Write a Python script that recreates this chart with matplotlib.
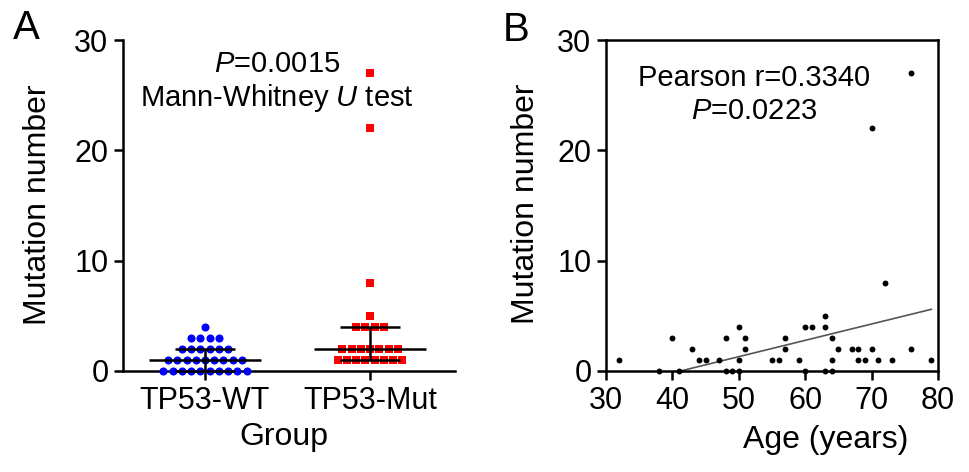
import numpy as np
import matplotlib
matplotlib.use("Agg")
import matplotlib.pyplot as plt

plt.rcParams['font.family'] = ['Liberation Sans', 'DejaVu Sans']
plt.rcParams['mathtext.fontset'] = 'custom'
plt.rcParams['mathtext.rm'] = 'Liberation Sans'
plt.rcParams['mathtext.it'] = 'Liberation Sans:italic'

# ---------------- data ----------------
groups = ["TP53-WT", "TP53-Mut"]
wt_values = [0, 0, 0, 0, 0, 0, 0, 0, 0, 0,
             1, 1, 1, 1, 1, 1, 1, 1, 1,
             2, 2, 2, 2, 2, 2,
             3, 3, 3, 3,
             4]
mut_values = [1, 1, 1, 1, 1, 1, 1, 1,
              2, 2, 2, 2, 2, 2, 2,
              4, 4, 4, 4,
              5, 8, 22, 27]

age = [38, 41, 48, 49, 50, 60, 63, 64,
       32, 44, 45, 47, 50, 55, 56, 59, 64, 68, 69, 71, 73, 79,
       43, 51, 57, 65, 67, 68, 70, 76,
       40, 48, 51, 57, 64,
       50, 60, 61, 63,
       63,
       72, 70, 76]
mutations = [0, 0, 0, 0, 0, 0, 0, 0,
             1, 1, 1, 1, 1, 1, 1, 1, 1, 1, 1, 1, 1, 1,
             2, 2, 2, 2, 2, 2, 2, 2,
             3, 3, 3, 3, 3,
             4, 4, 4, 4,
             5,
             8, 22, 27]
fit_slope = 0.148
fit_intercept = -6.1

yticks = [0, 10, 20, 30]
age_ticks = [30, 40, 50, 60, 70, 80]

# ---------------- figure ----------------
W, H = 969, 472
fig = plt.figure(figsize=(W / 100, H / 100), dpi=100)

def fx(px):
    return px / W

def fy(py):
    return 1 - py / H

axA = fig.add_axes([fx(123), fy(371), fx(332), 331 / H])
axB = fig.add_axes([fx(606), fy(371), fx(332), 331 / H])

LW = 1.8
TICK_FS = 22
LABEL_FS = 23
ANN_FS = 21

for ax in (axA, axB):
    ax.set_ylim(0, 30)
    ax.set_yticks(yticks)
    ax.tick_params(axis='both', direction='out', length=6.5, width=LW,
                   labelsize=TICK_FS, pad=4)
    for s in ax.spines.values():
        s.set_linewidth(LW)

# ---------------- panel A ----------------
spacing = 0.056

def swarm_x(values, center):
    vals = np.asarray(values)
    xs = np.zeros(len(vals), dtype=float)
    for v in np.unique(vals):
        idx = np.where(vals == v)[0]
        k = len(idx)
        xs[idx] = center + (np.arange(k) - (k - 1) / 2) * spacing
    return xs

axA.scatter(swarm_x(wt_values, 0), wt_values, s=34, marker='o',
            color='#0000FF', linewidths=0, zorder=3, clip_on=False)
axA.scatter(swarm_x(mut_values, 1), mut_values, s=34, marker='s',
            color='#FF0000', linewidths=0, zorder=3, clip_on=False)

for c, vals in enumerate([wt_values, mut_values]):
    q1, med, q3 = np.percentile(vals, [25, 50, 75])
    axA.hlines(med, c - 0.34, c + 0.34, color='black', lw=LW, zorder=4, clip_on=False)
    axA.hlines([q1, q3], c - 0.18, c + 0.18, color='black', lw=LW, zorder=4, clip_on=False)
    axA.vlines(c, q1, q3, color='black', lw=LW, zorder=4, clip_on=False)

axA.set_xlim(-0.497, 1.515)
axA.set_xticks([0, 1])
axA.set_xticklabels(groups)
axA.spines['top'].set_visible(False)
axA.spines['right'].set_visible(False)

axA.text(0.436, 27.1, r"$P$=0.0015", ha='center', va='baseline', fontsize=ANN_FS)
axA.text(0.436, 24.0, r"Mann-Whitney $U$ test", ha='center', va='baseline', fontsize=ANN_FS)

# ---------------- panel B ----------------
axB.scatter(age, mutations, s=18, color='black', linewidths=0, zorder=3, clip_on=False)
x0 = max(min(age), -fit_intercept / fit_slope)
x1 = max(age)
xs = np.array([x0, x1])
axB.plot(xs, fit_slope * xs + fit_intercept, color='#555555', lw=1.2, zorder=2)
axB.set_xlim(30, 80)
axB.set_xticks(age_ticks)
axB.tick_params(top=False, right=False)

axB.text(52.3, 25.8, "Pearson r=0.3340", ha='center', va='baseline', fontsize=ANN_FS)
axB.text(52.3, 22.8, r"$P$=0.0223", ha='center', va='baseline', fontsize=ANN_FS)

# ---------------- labels ----------------
fig.text(fx(38), fy(205), "Mutation number", rotation=90, ha='center', va='center', fontsize=LABEL_FS)
fig.text(fx(526), fy(204), "Mutation number", rotation=90, ha='center', va='center', fontsize=LABEL_FS)
fig.text(fx(284), fy(437), "Group", ha='center', va='center', fontsize=LABEL_FS)
fig.text(fx(826), fy(440), "Age (years)", ha='center', va='center', fontsize=LABEL_FS)
fig.text(fx(26), fy(28), "A", ha='center', va='center', fontsize=29)
fig.text(fx(516), fy(30), "B", ha='center', va='center', fontsize=29)

fig.savefig("out.png", dpi=100)
